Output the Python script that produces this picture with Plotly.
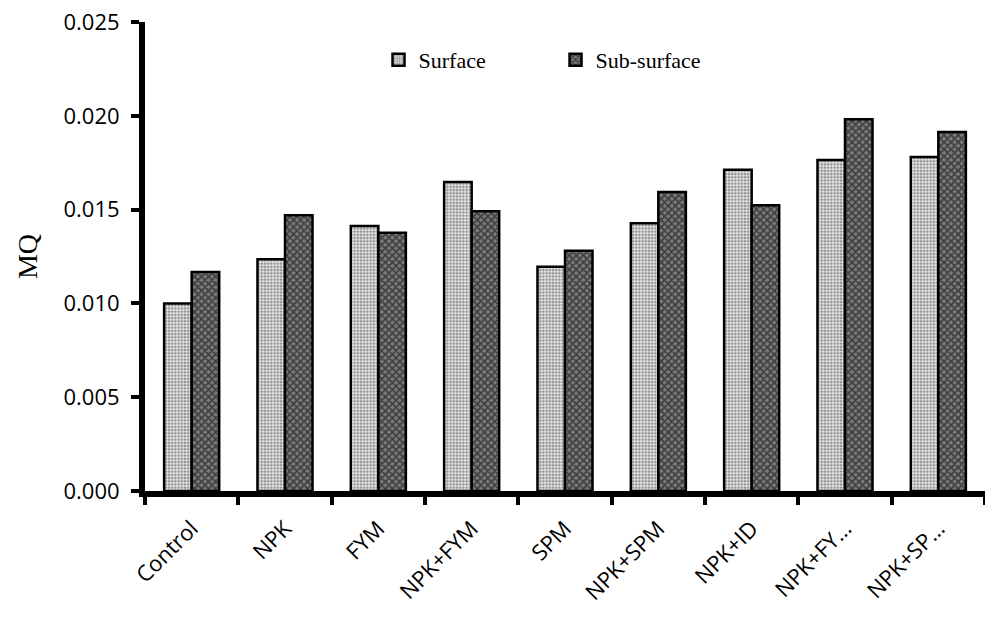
import plotly.graph_objects as go

categories = ["Control", "NPK", "FYM", "NPK+FYM", "SPM", "NPK+SPM", "NPK+ID", "NPK+FY…", "NPK+SP…"]
surface = [0.0100, 0.01235, 0.01413, 0.01647, 0.01196, 0.01427, 0.01713, 0.01764, 0.01780]
sub_surface = [0.01167, 0.01470, 0.01377, 0.01491, 0.01281, 0.01594, 0.01523, 0.01981, 0.01914]
y_ticks = [0.000, 0.005, 0.010, 0.015, 0.020, 0.025]

fig = go.Figure()
fig.add_trace(go.Bar(
    x=categories, y=surface, name="Surface",
    marker=dict(color="#cfcfcf", line=dict(color="black", width=2.5),
                pattern=dict(shape=".", fgcolor="#333333", bgcolor="#e2e2e2", size=3.2, solidity=0.45)),
))
fig.add_trace(go.Bar(
    x=categories, y=sub_surface, name="Sub-surface",
    marker=dict(color="#555555", line=dict(color="black", width=2.5),
                pattern=dict(shape="x", fgcolor="#000000", bgcolor="#7a7a7a", size=5, solidity=0.55)),
))

fig.update_layout(
    width=985, height=617,
    margin=dict(l=145, r=0, t=22, b=126),
    paper_bgcolor="white", plot_bgcolor="white",
    barmode="group", bargap=0.41, bargroupgap=0,
    showlegend=True,
    legend=dict(orientation="h", x=0.278, y=0.919, xanchor="left", yanchor="middle",
                font=dict(family="Liberation Serif", size=22, color="black"),
                entrywidth=132, entrywidthmode="pixels", bgcolor="rgba(0,0,0,0)"),
    font=dict(family="Open Sans", color="black"),
)
fig.update_xaxes(
    showline=True, linecolor="black", linewidth=6,
    ticks="outside", tickson="boundaries", ticklen=8, tickwidth=4, tickcolor="black",
    tickangle=-45, tickfont=dict(family="Open Sans", size=22, color="black"),
    ticklabelstandoff=10,
    showgrid=False, zeroline=False,
)
fig.update_yaxes(
    range=[0, 0.025], tickvals=y_ticks, tickformat=".3f",
    showline=True, linecolor="black", linewidth=6,
    ticks="outside", ticklen=8, tickwidth=4, tickcolor="black",
    tickfont=dict(family="Open Sans", size=22, color="black"),
    ticklabelstandoff=7,
    showgrid=False, zeroline=False,
    title=dict(text="MQ", font=dict(family="Liberation Serif", size=28, color="black"), standoff=20),
)

fig.write_html("out.html")
